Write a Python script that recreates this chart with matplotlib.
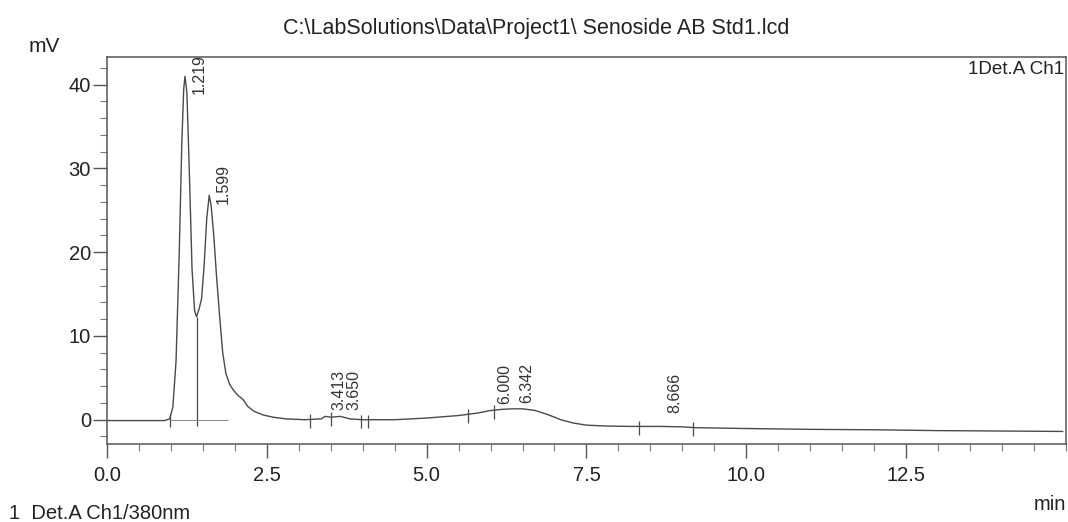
import numpy as np
import matplotlib
matplotlib.use("Agg")
import matplotlib.pyplot as plt
from matplotlib.ticker import MultipleLocator

plt.rcParams["font.family"] = ["Liberation Sans", "DejaVu Sans"]

# chromatogram trace (min, mV)
tiempo = [0.0, 0.5, 0.9, 0.98, 1.03, 1.08, 1.13, 1.17, 1.20, 1.22, 1.25, 1.29,
          1.33, 1.37, 1.40, 1.44, 1.48, 1.52, 1.56, 1.599, 1.63, 1.67, 1.71,
          1.76, 1.81, 1.86, 1.92, 1.98, 2.05, 2.13, 2.2, 2.3, 2.45, 2.6, 2.8,
          3.1, 3.35, 3.413, 3.5, 3.65, 3.8, 4.0, 4.5, 5.0, 5.5, 5.8, 6.0, 6.2,
          6.342, 6.5, 6.7, 6.9, 7.1, 7.3, 7.5, 7.8, 8.2, 8.666, 9.0, 9.2, 10.0,
          11.0, 12.0, 13.0, 14.0, 14.95]
senal = [-0.1, -0.1, -0.1, 0.1, 1.5, 7.0, 20.0, 33.0, 39.5, 41.0, 39.0, 29.0,
         18.0, 13.0, 12.3, 13.2, 14.5, 18.5, 24.0, 26.8, 25.5, 22.0, 17.5,
         12.5, 8.0, 5.5, 4.2, 3.5, 2.9, 2.4, 1.6, 1.0, 0.55, 0.3, 0.1,
         0.0, 0.1, 0.4, 0.3, 0.4, 0.1, 0.0, 0.0, 0.2, 0.5, 0.8, 1.1, 1.25,
         1.3, 1.3, 1.1, 0.6, 0.0, -0.4, -0.65, -0.75, -0.8, -0.8, -0.85, -0.95, -1.05,
         -1.15, -1.2, -1.3, -1.35, -1.4]

# retention time labels and integration marks
picos = [1.219, 1.599, 3.413, 3.650, 6.000, 6.342, 8.666]
marcas = [0.98, 3.17, 3.50, 3.98, 4.08, 5.64, 6.06, 8.33, 9.16]
valles = [1.40]

fig = plt.figure(figsize=(10.68, 5.22), dpi=100)
ax = fig.add_axes([0.1002, 0.1494, 0.8978, 0.7414])

ax.plot(tiempo, senal, color="#4a4a4a", lw=1.0)

for m in marcas:
    y = np.interp(m, tiempo, senal)
    ax.vlines(m, y - 1.0, y + 0.6, color="#4a4a4a", lw=0.9)
for v in valles:
    ax.vlines(v, -0.8, np.interp(v, tiempo, senal), color="#4a4a4a", lw=0.9)
    ax.hlines(0, 0.98, 1.9, color="#888888", lw=0.7)

for p in picos:
    y = max(np.interp(p, tiempo, senal), 0) * 0.93 + 0.8
    ax.text(p + 0.22, y, f"{p:.3f}", rotation=90, ha="center", va="bottom",
            fontsize=11.5, color="#333333")

ax.set_xlim(0, 15)
ax.set_ylim(-2.9, 43.3)
ax.xaxis.set_minor_locator(MultipleLocator(0.5))
ax.yaxis.set_major_locator(MultipleLocator(10))
ax.yaxis.set_minor_locator(MultipleLocator(2))
ax.set_xticks([0, 2.5, 5, 7.5, 10, 12.5])
ax.set_xticklabels(["0.0", "2.5", "5.0", "7.5", "10.0", "12.5"])
ax.tick_params(which="major", direction="out", length=10, width=1,
               color="#555555", labelsize=14.5, labelcolor="#222222")
ax.tick_params(axis="x", which="major", pad=6)
ax.tick_params(axis="y", which="major", pad=1.5)
ax.tick_params(which="minor", direction="out", length=5, width=0.8, color="#777777")
for s in ax.spines.values():
    s.set_color("#555555")
    s.set_linewidth(1.1)

fig.text(0.502, 0.946, "C:\\LabSolutions\\Data\\Project1\\ Senoside AB Std1.lcd",
         ha="center", va="center", fontsize=15.5, color="#222222")
fig.text(0.041, 0.91, "mV", ha="center", va="center", fontsize=15, color="#222222")
ax.text(0.998, 0.967, "1Det.A Ch1", transform=ax.transAxes, ha="right", va="center",
        fontsize=13.6, color="#222222")
fig.text(0.998, 0.033, "min", ha="right", va="center", fontsize=14.5, color="#222222")
fig.text(0.008, 0.017, "1  Det.A Ch1/380nm", ha="left", va="center", fontsize=14.5,
         color="#222222")

fig.savefig("out.png", dpi=100)
